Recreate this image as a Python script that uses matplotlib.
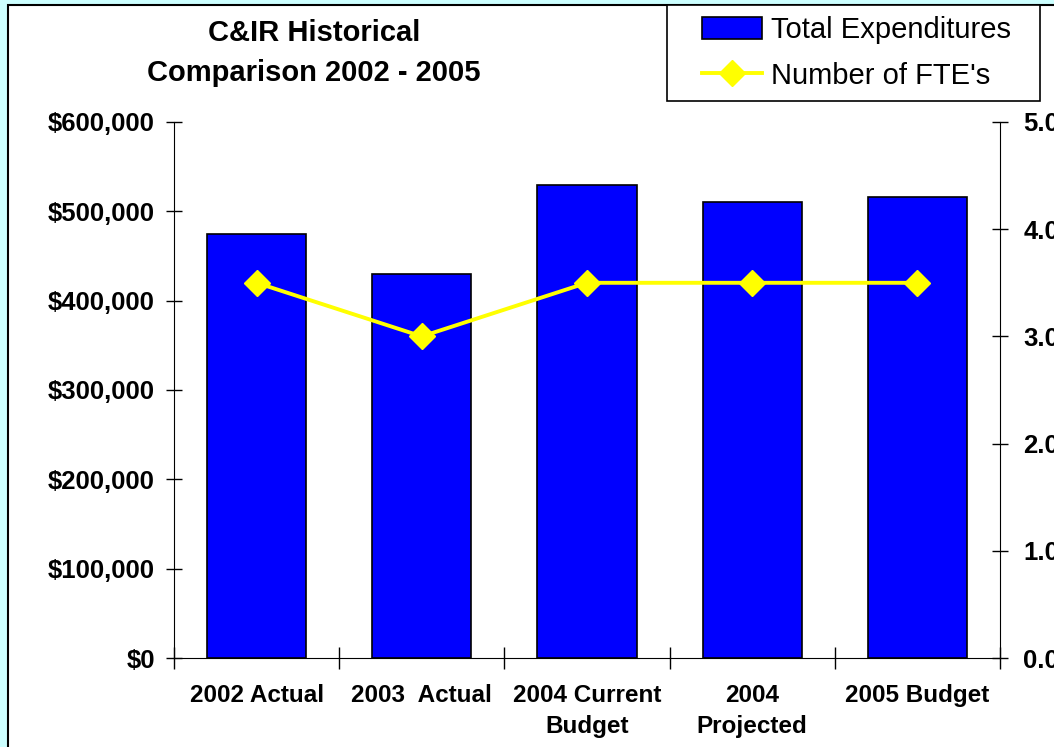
import matplotlib
matplotlib.use("Agg")
import matplotlib.pyplot as plt
from matplotlib.patches import Rectangle, Patch
from matplotlib.lines import Line2D
from matplotlib.ticker import FuncFormatter
import numpy as np

categories = ["2002 Actual", "2003  Actual", "2004 Current\nBudget", "2004\nProjected", "2005 Budget"]
expenditures = [475000, 430000, 529000, 511000, 516000]
fte = [3.5, 3.0, 3.5, 3.5, 3.5]
left_ticks = [0, 100000, 200000, 300000, 400000, 500000, 600000]
right_ticks = [0, 1, 2, 3, 4, 5]
title_text = "C&IR Historical\nComparison 2002 - 2005"
series_names = ["Total Expenditures", "Number of FTE's"]

plt.rcParams['font.family'] = ['Liberation Sans', 'DejaVu Sans']

W, H = 1054, 747
fig = plt.figure(figsize=(W / 100, H / 100), dpi=100, facecolor='#CCFFFF')

# white chart area with black border (extends beyond right/bottom edges)
fig.patches.append(Rectangle((8 / W, -0.1), 1.2, 1 - 5 / H + 0.1, transform=fig.transFigure,
                             facecolor='white', edgecolor='black', linewidth=1.5, zorder=0))

ax = fig.add_axes([174 / W, 1 - 658 / H, (1000 - 174) / W, (658 - 122) / H])
ax.set_zorder(2)
ax.set_facecolor('none')
x = np.arange(len(categories))
ax.bar(x, expenditures, width=0.6, color='#0000FF', edgecolor='black', linewidth=1.2, zorder=2)
ax.set_xlim(-0.5, len(categories) - 0.5)
ax.set_ylim(left_ticks[0], left_ticks[-1])
ax.set_yticks(left_ticks)
ax.yaxis.set_major_formatter(FuncFormatter(lambda v, p: "${:,.0f}".format(v)))
ax.set_xticks(np.arange(len(categories) + 1) - 0.5)
ax.set_xticklabels([])
ax.set_xticks(x, minor=True)
ax.set_xticklabels(categories, minor=True, fontweight='bold', fontsize=17.5, linespacing=1.45)
ax.tick_params(axis='x', which='major', direction='inout', length=16, width=1)
ax.tick_params(axis='x', which='minor', length=0, pad=19)
ax.tick_params(axis='y', direction='inout', length=11.5, width=1, pad=8, labelsize=18.5)
for lab in ax.get_yticklabels():
    lab.set_fontweight('bold')
ax.spines['top'].set_visible(False)
ax.spines['right'].set_visible(False)

ax2 = ax.twinx()
ax2.set_zorder(3)
ax2.patch.set_visible(False)
ax2.plot(x, fte, color='#FFFF00', linewidth=2.8, marker='D', markersize=13,
         markerfacecolor='#FFFF00', markeredgecolor='#FFFF00', zorder=3)
ax2.set_ylim(right_ticks[0], right_ticks[-1])
ax2.set_yticks(right_ticks)
ax2.yaxis.set_major_formatter(FuncFormatter(lambda v, p: "{:.1f}".format(v)))
ax2.tick_params(axis='y', direction='inout', length=11.5, width=1, pad=11, labelsize=18.5)
for lab in ax2.get_yticklabels():
    lab.set_fontweight('bold')
ax2.spines['top'].set_visible(False)
ax2.spines['left'].set_visible(False)
ax2.spines['bottom'].set_visible(False)

fig.text(314 / W, 1 - 53 / H, title_text, ha='center', va='center', fontsize=21,
         fontweight='bold', linespacing=1.58)

# legend frame
fig.patches.append(Rectangle((667 / W, 1 - 101 / H), (1040 - 667) / W, 96 / H,
                             transform=fig.transFigure, facecolor='white',
                             edgecolor='black', linewidth=1.2, zorder=1))
handles = [Patch(facecolor='#0000FF', edgecolor='black', linewidth=1.2),
           Line2D([], [], color='#FFFF00', linewidth=2.8, marker='D', markersize=13,
                  markerfacecolor='#FFFF00', markeredgecolor='#FFFF00')]
fig.legend(handles, series_names, loc='upper left', bbox_to_anchor=(702 / W, 1 - 16 / H),
           frameon=False, fontsize=21, borderpad=0, borderaxespad=0,
           handlelength=2.05, handletextpad=0.3, labelspacing=0.6, handleheight=0.8)

fig.savefig('out.png', dpi=100, facecolor=fig.get_facecolor())
